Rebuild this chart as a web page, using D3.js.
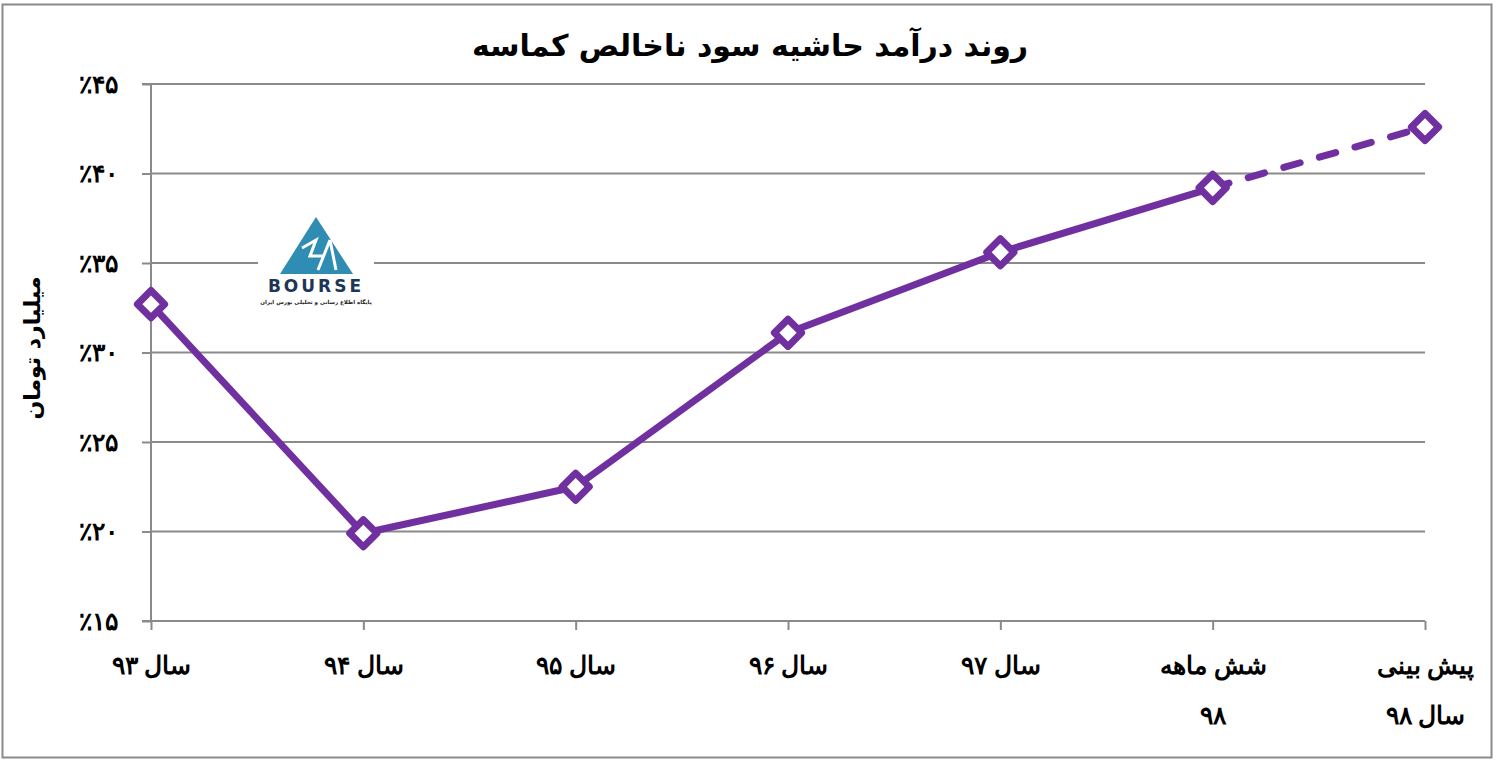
<!DOCTYPE html>
<html><head><meta charset="utf-8">
<script src="https://cdn.jsdelivr.net/npm/d3@7"></script>
<style>
html,body{margin:0;padding:0;background:#fff;}
svg{display:block;font-family:"DejaVu Sans",sans-serif;}
</style></head>
<body><svg id="c" width="1501" height="763"></svg>
<script>
const title = "روند درآمد حاشیه سود ناخالص کماسه";
const yTitle = "میلیارد تومان";
const categories = ["سال ۹۳","سال ۹۴","سال ۹۵","سال ۹۶","سال ۹۷","شش ماهه ۹۸","پیش بینی سال ۹۸"];
const categoryLines = [["سال ۹۳"],["سال ۹۴"],["سال ۹۵"],["سال ۹۶"],["سال ۹۷"],["شش ماهه","۹۸"],["پیش بینی","سال ۹۸"]];
const values = [32.7, 19.9, 22.5, 31.1, 35.6, 39.2, 42.6];
const yTicks = [15, 20, 25, 30, 35, 40, 45];
const yTickLabels = ["٪۱۵","٪۲۰","٪۲۵","٪۳۰","٪۳۵","٪۴۰","٪۴۵"];
const forecastFrom = 5;

const svg = d3.select("#c");
const purple = "#7030A0", grid = "#8a8a8a";
const L = 151, R = 1425, T = 84, B = 621;

svg.append("rect").attr("x",2.5).attr("y",4.5).attr("width",1489).attr("height",753)
  .attr("fill","#fff").attr("stroke",grid).attr("stroke-width",2);

const x = d3.scalePoint().domain(categories).range([L,R]);
const y = d3.scaleLinear().domain([15,45]).range([B,T]);

// gridlines
svg.append("g").selectAll("line").data(yTicks.filter(t=>t>15)).join("line")
  .attr("x1",L).attr("x2",R).attr("y1",d=>y(d)).attr("y2",d=>y(d))
  .attr("stroke",grid).attr("stroke-width",2);

// y axis
const ya = svg.append("g").attr("transform",`translate(${L},0)`)
  .call(d3.axisLeft(y).tickValues(yTicks).tickSize(9).tickPadding(24)
    .tickFormat((d,i)=>yTickLabels[yTicks.indexOf(d)]));
ya.select(".domain").attr("stroke",grid).attr("stroke-width",2).attr("d",`M-9,${T}H0V${B}H-9`);
ya.selectAll(".tick line").attr("stroke",grid).attr("stroke-width",2);
ya.selectAll(".tick text").attr("font-size",25).attr("font-weight","bold").attr("fill","#000")
  .attr("direction","ltr").style("unicode-bidi","bidi-override");

// x axis
const xa = svg.append("g").attr("transform",`translate(0,${B})`)
  .call(d3.axisBottom(x).tickSize(9).tickFormat(""));
xa.select(".domain").attr("stroke",grid).attr("stroke-width",2).attr("d",`M${L},0H${R}`);
xa.selectAll(".tick line").attr("stroke",grid).attr("stroke-width",2);
xa.selectAll(".tick").each(function(d,i){
  const g = d3.select(this);
  categoryLines[i].forEach((s,j)=>{
    g.append("text").attr("y",53 + j*50).attr("text-anchor","middle")
      .attr("direction","rtl").attr("font-size",25).attr("font-weight","bold")
      .attr("fill","#000").text(s);
  });
});

// logo
const lg = svg.append("g").attr("transform","translate(258,200)");
lg.append("rect").attr("x",0).attr("y",0).attr("width",116).attr("height",112).attr("fill","#fff");
lg.append("path").attr("d","M22,74 L58,17 L95,74 Z").attr("fill","#2f8db3");
lg.append("path").attr("d","M44,48 L58,40 L52,56 L66,56 M72,40 L60,70 M72,40 L78,70")
  .attr("fill","none").attr("stroke","#fff").attr("stroke-width",3);
lg.append("text").attr("x",58).attr("y",92).attr("text-anchor","middle")
  .attr("font-size",17).attr("font-weight","bold").attr("fill","#1d3557")
  .attr("letter-spacing",3).text("BOURSE");
lg.append("text").attr("x",58).attr("y",104).attr("text-anchor","middle").attr("direction","rtl")
  .attr("font-size",5.5).attr("font-weight","bold").attr("fill","#222")
  .text("پایگاه اطلاع رسانی و تحلیلی بورس ایران");

// lines
const line = d3.line().x(d=>x(d.c)).y(d=>y(d.v));
const pts = categories.map((c,i)=>({c, v:values[i]}));
svg.append("path").datum(pts.slice(0,forecastFrom+1)).attr("d",line)
  .attr("fill","none").attr("stroke",purple).attr("stroke-width",7).attr("stroke-linejoin","round");
svg.append("path").datum(pts.slice(forecastFrom)).attr("d",line)
  .attr("fill","none").attr("stroke",purple).attr("stroke-width",7)
  .attr("stroke-linecap","round").attr("stroke-dasharray","17,20");

// markers
const sym = d3.symbol().type(d3.symbolSquare).size(370);
svg.append("g").selectAll("path").data(pts).join("path")
  .attr("d",sym).attr("transform",d=>`translate(${x(d.c)},${y(d.v)}) rotate(45)`)
  .attr("fill","#fff").attr("stroke",purple).attr("stroke-width",7).attr("stroke-linejoin","round");

// titles
svg.append("text").attr("x",750).attr("y",56).attr("text-anchor","middle").attr("direction","rtl")
  .attr("font-size",30).attr("font-weight","bold").attr("fill","#000").text(title);
svg.append("text").attr("transform","translate(40,348) rotate(-90)").attr("text-anchor","middle")
  .attr("direction","rtl").attr("font-size",22).attr("font-weight","bold").attr("fill","#000").text(yTitle);
</script></body></html>
